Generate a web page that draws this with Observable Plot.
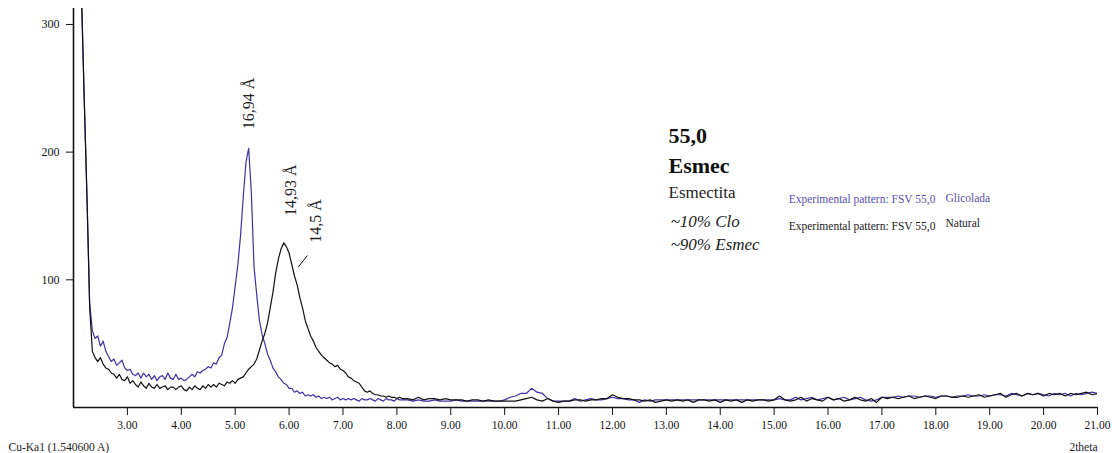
<!DOCTYPE html>
<html><head><meta charset="utf-8">
<script src="https://cdn.jsdelivr.net/npm/d3@7"></script>
<script src="https://cdn.jsdelivr.net/npm/@observablehq/plot@0.6"></script>
<style>html,body{margin:0;padding:0;background:#fff;} svg{display:block;}</style>
</head><body><div id="chart"></div>
<script>
// 2theta sampling: fine part from 2.15 by 0.05, coarse part from 8.2 by 0.1
const fineStart = 2.15, fineStep = 0.05;
const coarseStart = 8.2, coarseStep = 0.1;

// Glicolada (blue) counts
const glicoladaFine = [
  320, 240, 165, 82, 60, 54, 56, 48, 52, 44,
  40, 36, 38, 33, 35, 37, 31, 29, 30, 26,
  25, 27, 23, 27, 24, 26, 22, 25, 21, 24,
  25, 22, 27, 23, 22, 26, 22, 23, 21, 22,
  24, 26, 24, 28, 27, 29, 30, 32, 31, 35,
  34, 39, 41, 50, 55, 66, 78, 95, 112, 135,
  165, 192, 203, 168, 110, 88, 68, 57, 50, 42,
  37, 31, 28, 24, 22, 19, 18, 15, 15, 12,
  13, 11, 12, 9, 10, 9, 10, 8, 9, 7,
  8, 7, 8, 6, 7, 8, 6, 7, 6, 7,
  6, 7, 6, 5, 7, 6, 6, 7, 6, 5,
  7, 6, 5, 7, 6, 6, 5, 7, 6, 6
];
const glicoladaCoarse = [
  6, 5, 6, 5, 5, 6, 5, 5, 5, 6,
  5, 5, 5, 5, 5, 5, 5, 5, 6, 8,
  9, 11, 11, 15, 12, 11, 7, 5, 5, 5,
  5, 7, 5, 6, 7, 6, 6, 7, 8, 7,
  7, 6, 6, 4, 6, 5, 6, 6, 6, 6,
  6, 6, 6, 6, 6, 6, 6, 6, 6, 6,
  6, 6, 6, 6, 6, 6, 6, 6, 6, 7,
  6, 6, 8, 6, 7, 8, 6, 7, 8, 6,
  7, 8, 6, 7, 8, 6, 5, 6, 8, 8,
  8, 9, 8, 9, 9, 8, 9, 9, 8, 9,
  9, 8, 9, 9, 10, 9, 9, 10, 9, 10,
  10, 9, 11, 10, 9, 11, 10, 11, 10, 9,
  11, 10, 11, 9, 11, 10, 11, 12, 11, 11
];

// Natural (black) counts
const naturalFine = [
  320, 240, 165, 78, 44, 39, 36, 39, 34, 31,
  30, 27, 26, 23, 26, 22, 21, 24, 19, 21,
  18, 16, 20, 17, 15, 19, 16, 15, 18, 15,
  16, 17, 14, 16, 16, 14, 16, 17, 14, 13,
  16, 14, 17, 15, 14, 17, 15, 18, 16, 18,
  16, 19, 18, 17, 20, 19, 21, 19, 22, 23,
  24, 27, 30, 32, 34, 38, 45, 52, 58, 66,
  78, 90, 105, 116, 124, 129, 126, 121, 112, 103,
  96, 86, 78, 68, 62, 56, 52, 47, 44, 41,
  39, 37, 35, 34, 32, 33, 30, 29, 27, 24,
  23, 21, 20, 19, 16, 13, 12, 13, 11, 10,
  10, 9, 9, 8, 9, 8, 8, 7, 8, 7
];
const naturalCoarse = [
  7, 6, 8, 6, 7, 7, 6, 7, 6, 6,
  6, 5, 6, 6, 5, 6, 5, 5, 5, 5,
  5, 6, 7, 8, 6, 5, 7, 5, 4, 5,
  5, 6, 6, 5, 6, 6, 7, 7, 10, 8,
  7, 7, 6, 6, 5, 6, 4, 5, 6, 5,
  6, 5, 6, 4, 6, 6, 5, 6, 4, 6,
  5, 6, 4, 6, 5, 6, 6, 5, 6, 9,
  6, 5, 6, 8, 5, 7, 6, 5, 8, 6,
  7, 5, 6, 8, 6, 5, 7, 4, 8, 7,
  8, 7, 8, 9, 7, 8, 9, 8, 7, 9,
  9, 8, 8, 9, 8, 9, 10, 8, 9, 10,
  11, 8, 10, 11, 9, 11, 10, 11, 9, 11,
  10, 11, 9, 11, 10, 11, 12, 10, 11, 11
];

const xTicks = [3, 4, 5, 6, 7, 8, 9, 10, 11, 12, 13, 14, 15, 16, 17, 18, 19, 20, 21];
const yTicks = [100, 200, 300];

// peak labels (2theta, counts at text start)
const peakLabels = ["16,94 Å", "14,93 Å", "14,5 Å"];
const peakX = [5.25, 6.03, 6.49];
const peakY = [218, 150, 129];
const leader = [{x1: 6.17, y1: 110, x2: 6.34, y2: 119}];

// info block (2theta, counts of baseline)
const infoLines = ["55,0", "Esmec", "Esmectita", "~10% Clo", "~90% Esmec"];
const infoY = [206.8, 183.3, 163.7, 141.0, 123.0];
const infoX = 13.04;

const legendText = ["Experimental pattern: FSV 55,0", "Experimental pattern: FSV 55,0"];
const legendNames = ["Glicolada", "Natural"];
const legendY = [159.8, 139.0];
const legendNameY = [160.6, 141.0];
const legendX = 15.27, legendNameX = 18.18;

const blue = "#3c32a4";

function build(fine, coarse) {
  return [
    ...fine.map((v, i) => ({x: +(fineStart + i * fineStep).toFixed(2), y: v})),
    ...coarse.map((v, i) => ({x: +(coarseStart + i * coarseStep).toFixed(2), y: v}))
  ];
}
const gly = build(glicoladaFine, glicoladaCoarse);
const nat = build(naturalFine, naturalCoarse);

const peaks = peakLabels.map((t, i) => ({t, x: peakX[i], y: peakY[i]}));
const info = infoLines.map((t, i) => ({t, y: infoY[i], bold: i < 2, italic: i >= 3}));
const legend = legendText.map((t, i) => ({t, y: legendY[i], name: legendNames[i], ny: legendNameY[i], c: i === 0 ? "#5a50ad" : "#222"}));

const chart = Plot.plot({
  width: 1112,
  height: 453,
  marginLeft: 73,
  marginRight: 15,
  marginTop: 8,
  marginBottom: 46,
  style: {fontFamily: "'Liberation Serif', 'Times New Roman', serif", background: "#fff", color: "#111"},
  x: {domain: [2, 21]},
  y: {domain: [0, 312.5]},
  marks: [
    Plot.axisX({ticks: xTicks, tickFormat: d => d.toFixed(2), tickSize: 8, tickPadding: 5, fontSize: 11.5, label: null}),
    Plot.axisY({ticks: yTicks, tickSize: 7, tickPadding: 7, fontSize: 12, label: null}),
    Plot.ruleX([2], {strokeWidth: 1.6}),
    Plot.ruleY([0], {strokeWidth: 1.6}),
    Plot.line(gly, {x: "x", y: "y", stroke: blue, strokeWidth: 1.2, clip: true}),
    Plot.line(nat, {x: "x", y: "y", stroke: "#111", strokeWidth: 1.2, clip: true}),
    Plot.text(peaks, {x: "x", y: "y", text: "t", rotate: -90, textAnchor: "start", lineAnchor: "middle", fontSize: 16, fill: "#222"}),
    Plot.link(leader, {x1: "x1", y1: "y1", x2: "x2", y2: "y2", stroke: "#111", strokeWidth: 1}),
    Plot.text(info.filter(d => d.bold), {x: infoX, y: "y", text: "t", textAnchor: "start", lineAnchor: "bottom", fontSize: 22, fontWeight: "bold", fill: "#111"}),
    Plot.text(info.filter(d => !d.bold && !d.italic), {x: infoX, y: "y", text: "t", textAnchor: "start", lineAnchor: "bottom", fontSize: 17, fill: "#222"}),
    Plot.text(info.filter(d => d.italic), {x: infoX + 0.04, y: "y", text: "t", textAnchor: "start", lineAnchor: "bottom", fontSize: 17, fontStyle: "italic", fill: "#222"}),
    Plot.text(legend, {x: legendX, y: "y", text: "t", textAnchor: "start", lineAnchor: "bottom", fontSize: 11.5, fill: "c"}),
    Plot.text(legend, {x: legendNameX, y: "ny", text: "name", textAnchor: "start", lineAnchor: "bottom", fontSize: 11.5, fill: "c"}),
    Plot.text(["Cu-Ka1 (1.540600 A)"], {frameAnchor: "bottom-left", dx: -65, dy: 43, textAnchor: "start", lineAnchor: "bottom", fontSize: 11.5, fill: "#222"}),
    Plot.text(["2theta"], {frameAnchor: "bottom-right", dy: 43, textAnchor: "end", lineAnchor: "bottom", fontSize: 11.5, fill: "#222"})
  ]
});
document.getElementById("chart").appendChild(chart);
</script>
</body></html>
